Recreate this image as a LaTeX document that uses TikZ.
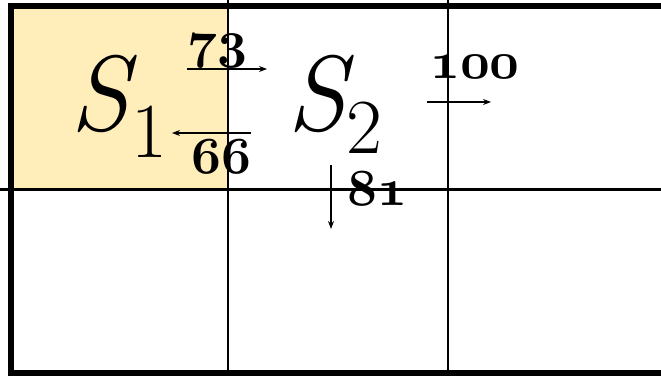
\documentclass[tikz,border=0pt]{standalone}
\usetikzlibrary{arrows.meta}
\font\osfbold=cmmib10 at 52pt
\definecolor{cellyellow}{RGB}{255,237,186}
\begin{document}
\begin{tikzpicture}[x=1pt,y=1pt,
  gridline/.style={line width=2.5pt,black},
  frameline/.style={line width=6pt,black},
  valarrow/.style={line width=1.2pt,-{Stealth[length=8pt,width=6pt]}},
  bigS/.style={inner sep=0pt,anchor=base west,font=\fontsize{107}{110}\selectfont\itshape},
  subnum/.style={inner sep=0pt,anchor=base west,font=\fontsize{78}{80}\selectfont},
  valnum/.style={inner sep=0pt,anchor=base,font=\osfbold}]
\useasboundingbox (0,0) rectangle (661,376);
\clip (0,0) rectangle (661,376);
\fill[white] (0,0) rectangle (661,376);
\fill[cellyellow] (14,187) rectangle (228,367);
\draw[gridline] (228,376) -- (228,0);
\draw[gridline] (448,376) -- (448,0);
\draw[gridline] (0,186.5) -- (661,186.5);
\draw[frameline] (11,3) rectangle (670,370);
% labels
\node[bigS] (s1) at (70,246) {S};
\node[subnum] (s1sub) at (131,219) {1};
\node[bigS] (s2) at (287,246) {S};
\node[subnum] (s2sub) at (346,223) {2};
\node[valnum] (v73) at (217.5,319) {73};
\node[valnum] (v66) at (221,203) {66};
\node[valnum] (v100) at (475,298) {100};
\node[valnum] (v81) at (377.5,171) {81};
% arrows
\coordinate (a73s) at (187,307);
\coordinate (a73e) at (267,307);
\coordinate (a66s) at (251,243);
\coordinate (a66e) at (172,243);
\coordinate (a100s) at (427,274);
\coordinate (a100e) at (491,274);
\coordinate (a81s) at (331,211);
\coordinate (a81e) at (331,147);
\draw[valarrow] (a73s) -- (a73e);
\draw[valarrow] (a66s) -- (a66e);
\draw[valarrow] (a100s) -- (a100e);
\draw[valarrow] (a81s) -- (a81e);
\end{tikzpicture}
\end{document}
